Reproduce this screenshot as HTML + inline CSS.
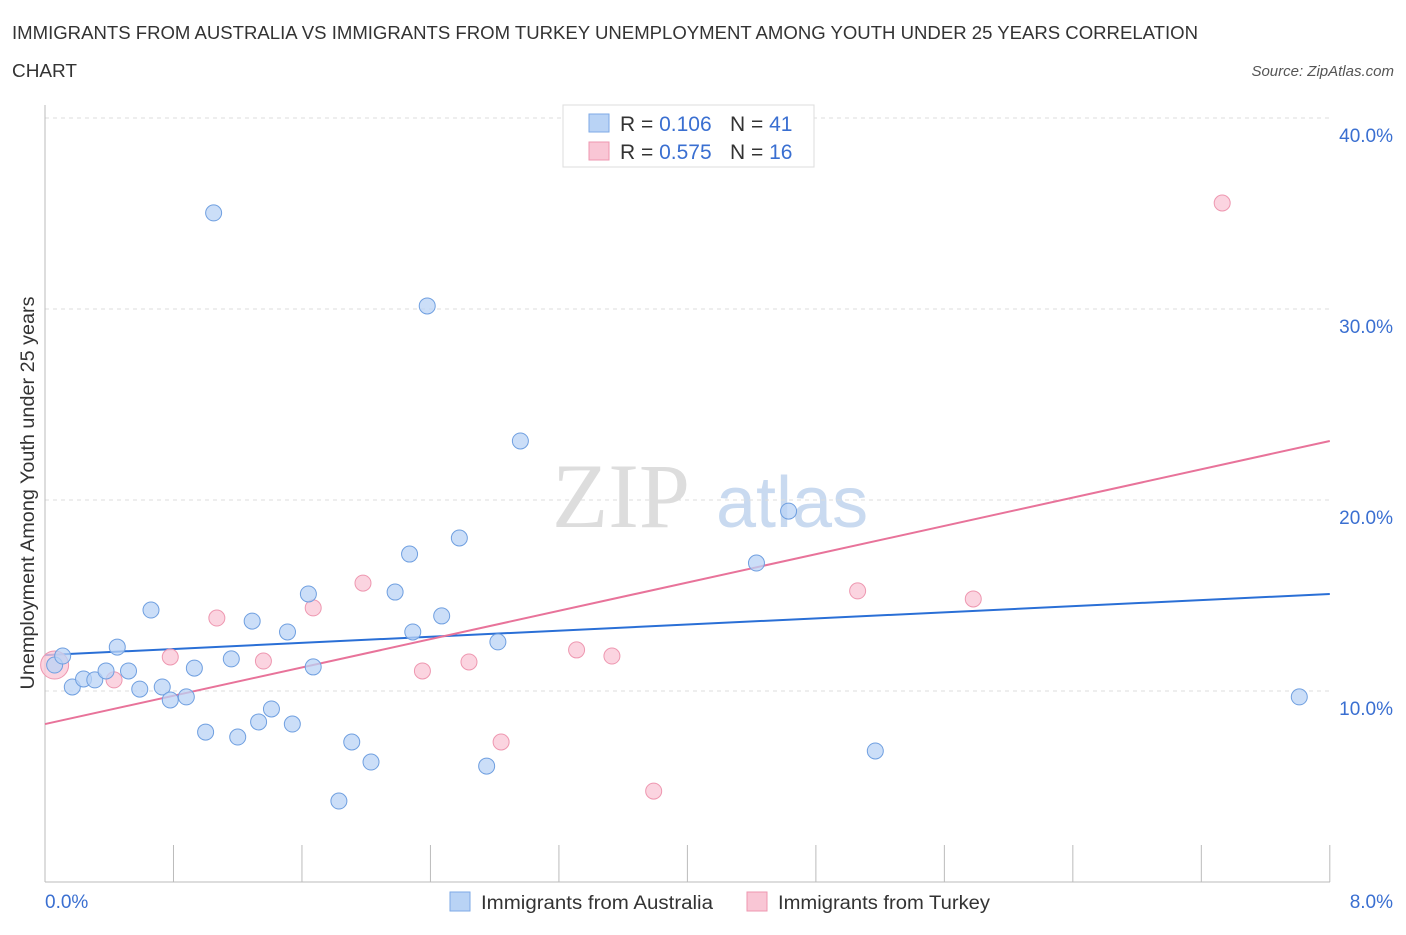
<!DOCTYPE html>
<html><head><meta charset="utf-8"><style>
body{margin:0;background:#fff;font-family:"Liberation Sans",sans-serif;}
</style></head><body>
<svg id="chart" width="1406" height="930" xmlns="http://www.w3.org/2000/svg" font-family="Liberation Sans, sans-serif">
<text x="12" y="39" font-size="18" fill="#333" textLength="1186" lengthAdjust="spacingAndGlyphs">IMMIGRANTS FROM AUSTRALIA VS IMMIGRANTS FROM TURKEY UNEMPLOYMENT AMONG YOUTH UNDER 25 YEARS CORRELATION</text>
<text x="12" y="77" font-size="18" fill="#333" textLength="65" lengthAdjust="spacingAndGlyphs">CHART</text>
<text x="1394" y="76" font-size="15" fill="#555" font-style="italic" text-anchor="end">Source: ZipAtlas.com</text>
<text x="552" y="527" font-size="92" fill="#ddd" font-family="Liberation Serif, serif">ZIP</text>
<text x="716" y="527" font-size="72" fill="#c9daf0">atlas</text>
<g id="grid"></g><g id="axes"></g><g id="lines"></g><g id="points"></g>
<text transform="translate(34,493) rotate(-90)" font-size="19" fill="#333" text-anchor="middle" textLength="393" lengthAdjust="spacingAndGlyphs">Unemployment Among Youth under 25 years</text>
<text x="45" y="908" font-size="19" fill="#3a6fd1">0.0%</text>
<text x="1393" y="908" font-size="19" fill="#3a6fd1" text-anchor="end">8.0%</text>
<g>
<rect x="563" y="105" width="251" height="62" fill="#fff" stroke="#ddd"/>
<rect x="589" y="114" width="20" height="18" fill="#b9d3f5" stroke="#7ea9e6"/>
<rect x="589" y="142" width="20" height="18" fill="#f9c6d5" stroke="#ee97b0"/>
<text x="620" y="131" font-size="21" fill="#333">R = <tspan fill="#3a6fd1">0.106</tspan><tspan x="730">N = </tspan><tspan fill="#3a6fd1">41</tspan></text>
<text x="620" y="159" font-size="21" fill="#333">R = <tspan fill="#3a6fd1">0.575</tspan><tspan x="730">N = </tspan><tspan fill="#3a6fd1">16</tspan></text>
</g>
<g>
<rect x="450" y="892" width="20" height="19" fill="#b9d3f5" stroke="#7ea9e6"/>
<text x="481" y="909" font-size="19" fill="#333" textLength="232" lengthAdjust="spacingAndGlyphs">Immigrants from Australia</text>
<rect x="747" y="892" width="20" height="19" fill="#f9c6d5" stroke="#ee97b0"/>
<text x="778" y="909" font-size="19" fill="#333" textLength="212" lengthAdjust="spacingAndGlyphs">Immigrants from Turkey</text>
</g>
</svg>
<script>
const yTicks=[10,20,30,40];
const xTickVals=[0,0.8,1.6,2.4,3.2,4.0,4.8,5.6,6.4,7.2,8.0];
const ausX=[0.06,0.11,0.17,0.24,0.31,0.38,0.45,0.52,0.59,0.66,0.73,0.78,0.88,0.93,1.00,1.05,1.16,1.20,1.29,1.33,1.41,1.51,1.54,1.64,1.67,1.83,1.91,2.03,2.18,2.27,2.29,2.38,2.47,2.58,2.75,2.82,2.96,4.43,4.63,5.17,7.81];
const ausY=[11.36,11.83,10.21,10.63,10.58,11.05,12.30,11.05,10.10,14.24,10.21,9.53,9.69,11.20,7.85,35.03,11.68,7.59,13.66,8.38,9.06,13.09,8.27,15.08,11.26,4.24,7.33,6.28,15.18,17.17,13.09,30.16,13.93,18.01,6.07,12.57,23.09,16.70,19.42,6.86,9.69];
const turX=[0.06,0.43,0.78,1.07,1.36,1.67,1.98,2.35,2.64,2.84,3.31,3.53,3.79,5.06,5.78,7.33];
const turY=[11.36,10.58,11.78,13.82,11.57,14.35,15.65,11.05,11.52,7.33,12.15,11.83,4.76,15.24,14.82,35.55];
const ausTrend=[11.88,15.08];
const turTrend=[8.27,23.09];
const NS="http://www.w3.org/2000/svg";
const sx=v=>45+v*160.6, sy=v=>882-v*19.1;
function mk(p,t,a){const e=document.createElementNS(NS,t);for(const k in a)e.setAttribute(k,a[k]);document.getElementById(p).appendChild(e);return e;}
yTicks.forEach(t=>{
 const l=mk('grid','line',{x1:45,x2:1330,y1:sy(t),y2:sy(t),stroke:'#ddd','stroke-dasharray':'4,4'});
 
 
 const tx=mk('grid','text',{x:1393,y:sy(t)+24,'font-size':19,fill:'#3a6fd1','text-anchor':'end'});
 tx.textContent=t.toFixed(1)+'%';
 
 
});
let ax=mk('axes','line',{x1:45,x2:45,y1:105,y2:882,stroke:'#bbb'});


ax=mk('axes','line',{x1:45,x2:1330,y1:882,y2:882,stroke:'#bbb'});


xTickVals.forEach(v=>{
 const t=mk('axes','line',{x1:sx(v),x2:sx(v),y1:845,y2:882,stroke:'#bbb'});
 
 
});
let tl=mk('lines','line',{x1:sx(0),x2:sx(8),y1:sy(ausTrend[0]),y2:sy(ausTrend[1]),stroke:'#2a6fd6','stroke-width':2});


tl=mk('lines','line',{x1:sx(0),x2:sx(8),y1:sy(turTrend[0]),y2:sy(turTrend[1]),stroke:'#e8739a','stroke-width':2});


turX.forEach((x,i)=>{
 const c=mk('points','circle',{cx:sx(x),cy:sy(turY[i]),r:i===0?14:8,fill:'#f9c6d5','fill-opacity':0.75,stroke:'#ee97b0'});
 
 
});
ausX.forEach((x,i)=>{
 const c=mk('points','circle',{cx:sx(x),cy:sy(ausY[i]),r:8,fill:'#b9d3f5','fill-opacity':0.75,stroke:'#6f9fe0'});
 
 
});
</script>
</body></html>
